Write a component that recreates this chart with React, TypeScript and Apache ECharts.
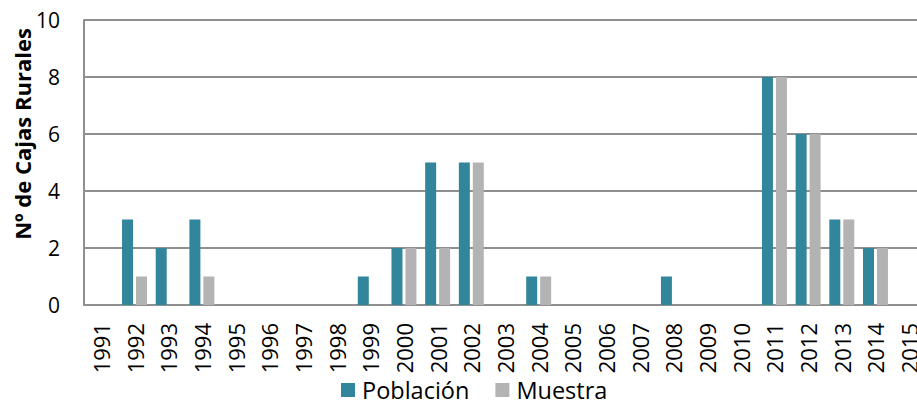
import React, { useEffect, useRef } from "react";
import * as echarts from "echarts";

const years = [
  "1991", "1992", "1993", "1994", "1995", "1996", "1997", "1998", "1999",
  "2000", "2001", "2002", "2003", "2004", "2005", "2006", "2007", "2008",
  "2009", "2010", "2011", "2012", "2013", "2014", "2015",
];
const poblacion = [0, 3, 2, 3, 0, 0, 0, 0, 1, 2, 5, 5, 0, 1, 0, 0, 0, 1, 0, 0, 8, 6, 3, 2, 0];
const muestra = [0, 1, 0, 1, 0, 0, 0, 0, 0, 2, 2, 5, 0, 1, 0, 0, 0, 0, 0, 0, 8, 6, 3, 2, 0];

const FONT = "'Open Sans', 'Noto Sans', sans-serif";
const GRID_COLOR = "#8f8f8f";

export default function App() {
  const ref = useRef<HTMLDivElement>(null);

  useEffect(() => {
    if (!ref.current) return;
    const chart = echarts.init(ref.current, undefined, { renderer: "svg" });
    chart.setOption({
      animation: false,
      backgroundColor: "#ffffff",
      textStyle: { fontFamily: FONT },
      // the plot area runs past the visible frame on the right
      grid: { left: 84, width: 842, top: 20, height: 285, containLabel: false },
      legend: {
        top: 378,
        left: 341,
        padding: 0,
        itemWidth: 14,
        itemHeight: 14,
        itemGap: 26,
        icon: "rect",
        textStyle: {
          fontSize: 23.5,
          lineHeight: 20,
          color: "#000",
          fontFamily: FONT,
          padding: [0, 0, 0, 2],
        },
        data: ["Población", "Muestra"],
      },
      xAxis: {
        type: "category",
        data: years,
        axisTick: { show: false },
        axisLine: { show: true, lineStyle: { color: GRID_COLOR, width: 2 } },
        axisLabel: {
          interval: 0,
          rotate: 90,
          fontSize: 22,
          color: "#000",
          margin: 18,
          fontFamily: FONT,
        },
      },
      yAxis: {
        type: "value",
        min: 0,
        max: 10,
        interval: 2,
        axisLine: { show: true, lineStyle: { color: GRID_COLOR, width: 2 } },
        axisTick: { show: false },
        splitLine: { show: true, lineStyle: { color: GRID_COLOR, width: 2 } },
        axisLabel: { fontSize: 21, color: "#000", margin: 24, fontFamily: FONT },
      },
      graphic: [
        {
          type: "text",
          x: 22,
          y: 134,
          rotation: Math.PI / 2,
          style: {
            text: "Nº de Cajas Rurales",
            fontSize: 22,
            fontWeight: "bold",
            fontFamily: FONT,
            fill: "#000",
            align: "center",
            verticalAlign: "middle",
          },
        },
      ],
      series: [
        {
          name: "Población",
          type: "bar",
          data: poblacion,
          barWidth: 11,
          barGap: "27%",
          itemStyle: { color: "#31869c" },
        },
        {
          name: "Muestra",
          type: "bar",
          data: muestra,
          barWidth: 11,
          barGap: "27%",
          itemStyle: { color: "#b3b3b3" },
        },
      ],
    });
    return () => chart.dispose();
  }, []);

  return (
    <div
      style={{
        position: "fixed",
        left: 0,
        top: 0,
        width: 917,
        height: 400,
        overflow: "hidden",
        background: "#fff",
      }}
    >
      <div ref={ref} style={{ width: 940, height: 400 }} />
    </div>
  );
}
